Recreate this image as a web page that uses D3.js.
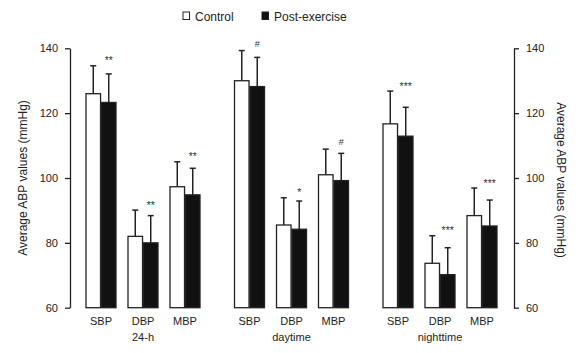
<!DOCTYPE html>
<meta charset="utf-8">
<style>
body { margin: 0; background: #fff; }
text { font-family: "Liberation Sans", Arial, sans-serif; fill: #222; }
.axis path, .axis line { stroke: #222; stroke-width: 1.3; }
.axis text { font-size: 11px; fill: #222; }
</style>
<svg width="583" height="353"></svg>
<script src="https://d3js.org/d3.v7.min.js"></script>
<script>
    // periods and measures
    var groups = ["24-h", "daytime", "nighttime"];
    var metrics = ["SBP", "DBP", "MBP"];
    var series = ["Control", "Post-exercise"];
    // means, order: 24-h SBP/DBP/MBP, daytime ..., nighttime ...
    var controlMean = [126, 82, 97.3, 130, 85.5, 101, 116.7, 73.7, 88.4];
    var controlSd = [8.6, 8.1, 7.7, 9.3, 8.4, 7.9, 10.1, 8.5, 8.5];
    var postMean = [123.3, 80, 94.8, 128.2, 84.2, 99.2, 112.9, 70.2, 85.2];
    var postSd = [8.8, 8.4, 8.2, 9.0, 8.7, 8.4, 8.9, 8.3, 8.0];
    var sig = ["**", "**", "**", "#", "*", "#", "***", "***", "***"];
    var yTicks = [60, 80, 100, 120, 140];

    var rows = [];
    groups.forEach(function(g, gi) {
        metrics.forEach(function(m, mi) {
            var i = gi * 3 + mi;
            rows.push({group: g, metric: m, sig: sig[i],
                vals: [{s: series[0], mean: controlMean[i], sd: controlSd[i]},
                       {s: series[1], mean: postMean[i], sd: postSd[i]}]});
        });
    });

    var svg = d3.select("svg");

    var y = d3.scaleLinear().domain([60, 140]).range([307.7, 48.3]);
    var x0 = d3.scalePoint().domain(groups).range([143, 440]);
    var x1 = d3.scalePoint().domain(metrics).range([-42, 42]);
    var xs = d3.scaleBand().domain(series).range([-15, 15]).paddingInner(0.06);

    // axes
    svg.append("g").attr("class", "axis")
        .attr("transform", "translate(70,0)")
        .call(d3.axisLeft(y).tickValues(yTicks).tickSize(5).tickPadding(7).tickSizeOuter(0));
    svg.append("g").attr("class", "axis")
        .attr("transform", "translate(514,0)")
        .call(d3.axisRight(y).tickValues(yTicks).tickSize(5).tickPadding(7).tickSizeOuter(0));

    svg.append("text")
        .attr("transform", "translate(27,178) rotate(-90)")
        .attr("text-anchor", "middle")
        .style("font-size", "12px")
        .text("Average ABP values (mmHg)");
    svg.append("text")
        .attr("transform", "translate(557,180) rotate(90)")
        .attr("text-anchor", "middle")
        .style("font-size", "12px")
        .text("Average ABP values (mmHg)");

    var cell = svg.selectAll(".cell")
        .data(rows)
        .enter().append("g")
        .attr("class", "cell")
        .attr("transform", function(d) { return "translate(" + (x0(d.group) + x1(d.metric)) + ",0)"; });

    var bar = cell.selectAll(".bar")
        .data(function(d) { return d.vals; })
        .enter().append("g")
        .attr("class", "bar");

    // error bars (upper only)
    bar.append("line")
        .attr("x1", function(d) { return xs(d.s) + xs.bandwidth() / 2; })
        .attr("x2", function(d) { return xs(d.s) + xs.bandwidth() / 2; })
        .attr("y1", function(d) { return y(d.mean); })
        .attr("y2", function(d) { return y(d.mean + d.sd); })
        .attr("stroke", "#222").attr("stroke-width", 1.5);
    bar.append("line")
        .attr("x1", function(d) { return xs(d.s) + xs.bandwidth() / 2 - 3; })
        .attr("x2", function(d) { return xs(d.s) + xs.bandwidth() / 2 + 3; })
        .attr("y1", function(d) { return y(d.mean + d.sd); })
        .attr("y2", function(d) { return y(d.mean + d.sd); })
        .attr("stroke", "#222").attr("stroke-width", 1.5);

    bar.append("rect")
        .attr("x", function(d) { return xs(d.s); })
        .attr("width", xs.bandwidth())
        .attr("y", function(d) { return y(d.mean); })
        .attr("height", function(d) { return y(60) - y(d.mean); })
        .attr("fill", function(d) { return d.s === "Control" ? "#fff" : "#111"; })
        .attr("stroke", "#222").attr("stroke-width", 1.3);

    // significance marks
    cell.append("text")
        .attr("x", xs(series[1]) + xs.bandwidth() / 2)
        .attr("y", function(d) {
            var top = d3.max(d.vals, function(v) { return v.mean + v.sd; });
            return y(top) - (d.sig === "#" ? 4 : 1.5);
        })
        .attr("text-anchor", "middle")
        .style("fill", "#333")
        .style("font-size", function(d) { return d.sig === "#" ? "9px" : "10.5px"; })
        .text(function(d) { return d.sig; });

    // category labels
    cell.append("text")
        .attr("y", 325)
        .attr("text-anchor", "middle")
        .style("font-size", "11px")
        .text(function(d) { return d.metric; });

    svg.selectAll(".glabel")
        .data(groups)
        .enter().append("text")
        .attr("class", "glabel")
        .attr("x", function(d) { return x0(d); })
        .attr("y", 341)
        .attr("text-anchor", "middle")
        .style("font-size", "11px")
        .text(function(d) { return d; });

    // legend
    var leg = svg.selectAll(".leg")
        .data(series)
        .enter().append("g")
        .attr("class", "leg")
        .attr("transform", function(d, i) { return "translate(" + (i === 0 ? 183 : 262) + ",0)"; });
    leg.append("rect")
        .attr("x", 0).attr("y", 12).attr("width", 6.5).attr("height", 7.5)
        .attr("fill", function(d, i) { return i === 0 ? "#fff" : "#111"; })
        .attr("stroke", "#222").attr("stroke-width", 1);
    leg.append("text")
        .attr("x", 12)
        .attr("y", 21)
        .style("font-size", "12px")
        .text(function(d) { return d; });
</script>
